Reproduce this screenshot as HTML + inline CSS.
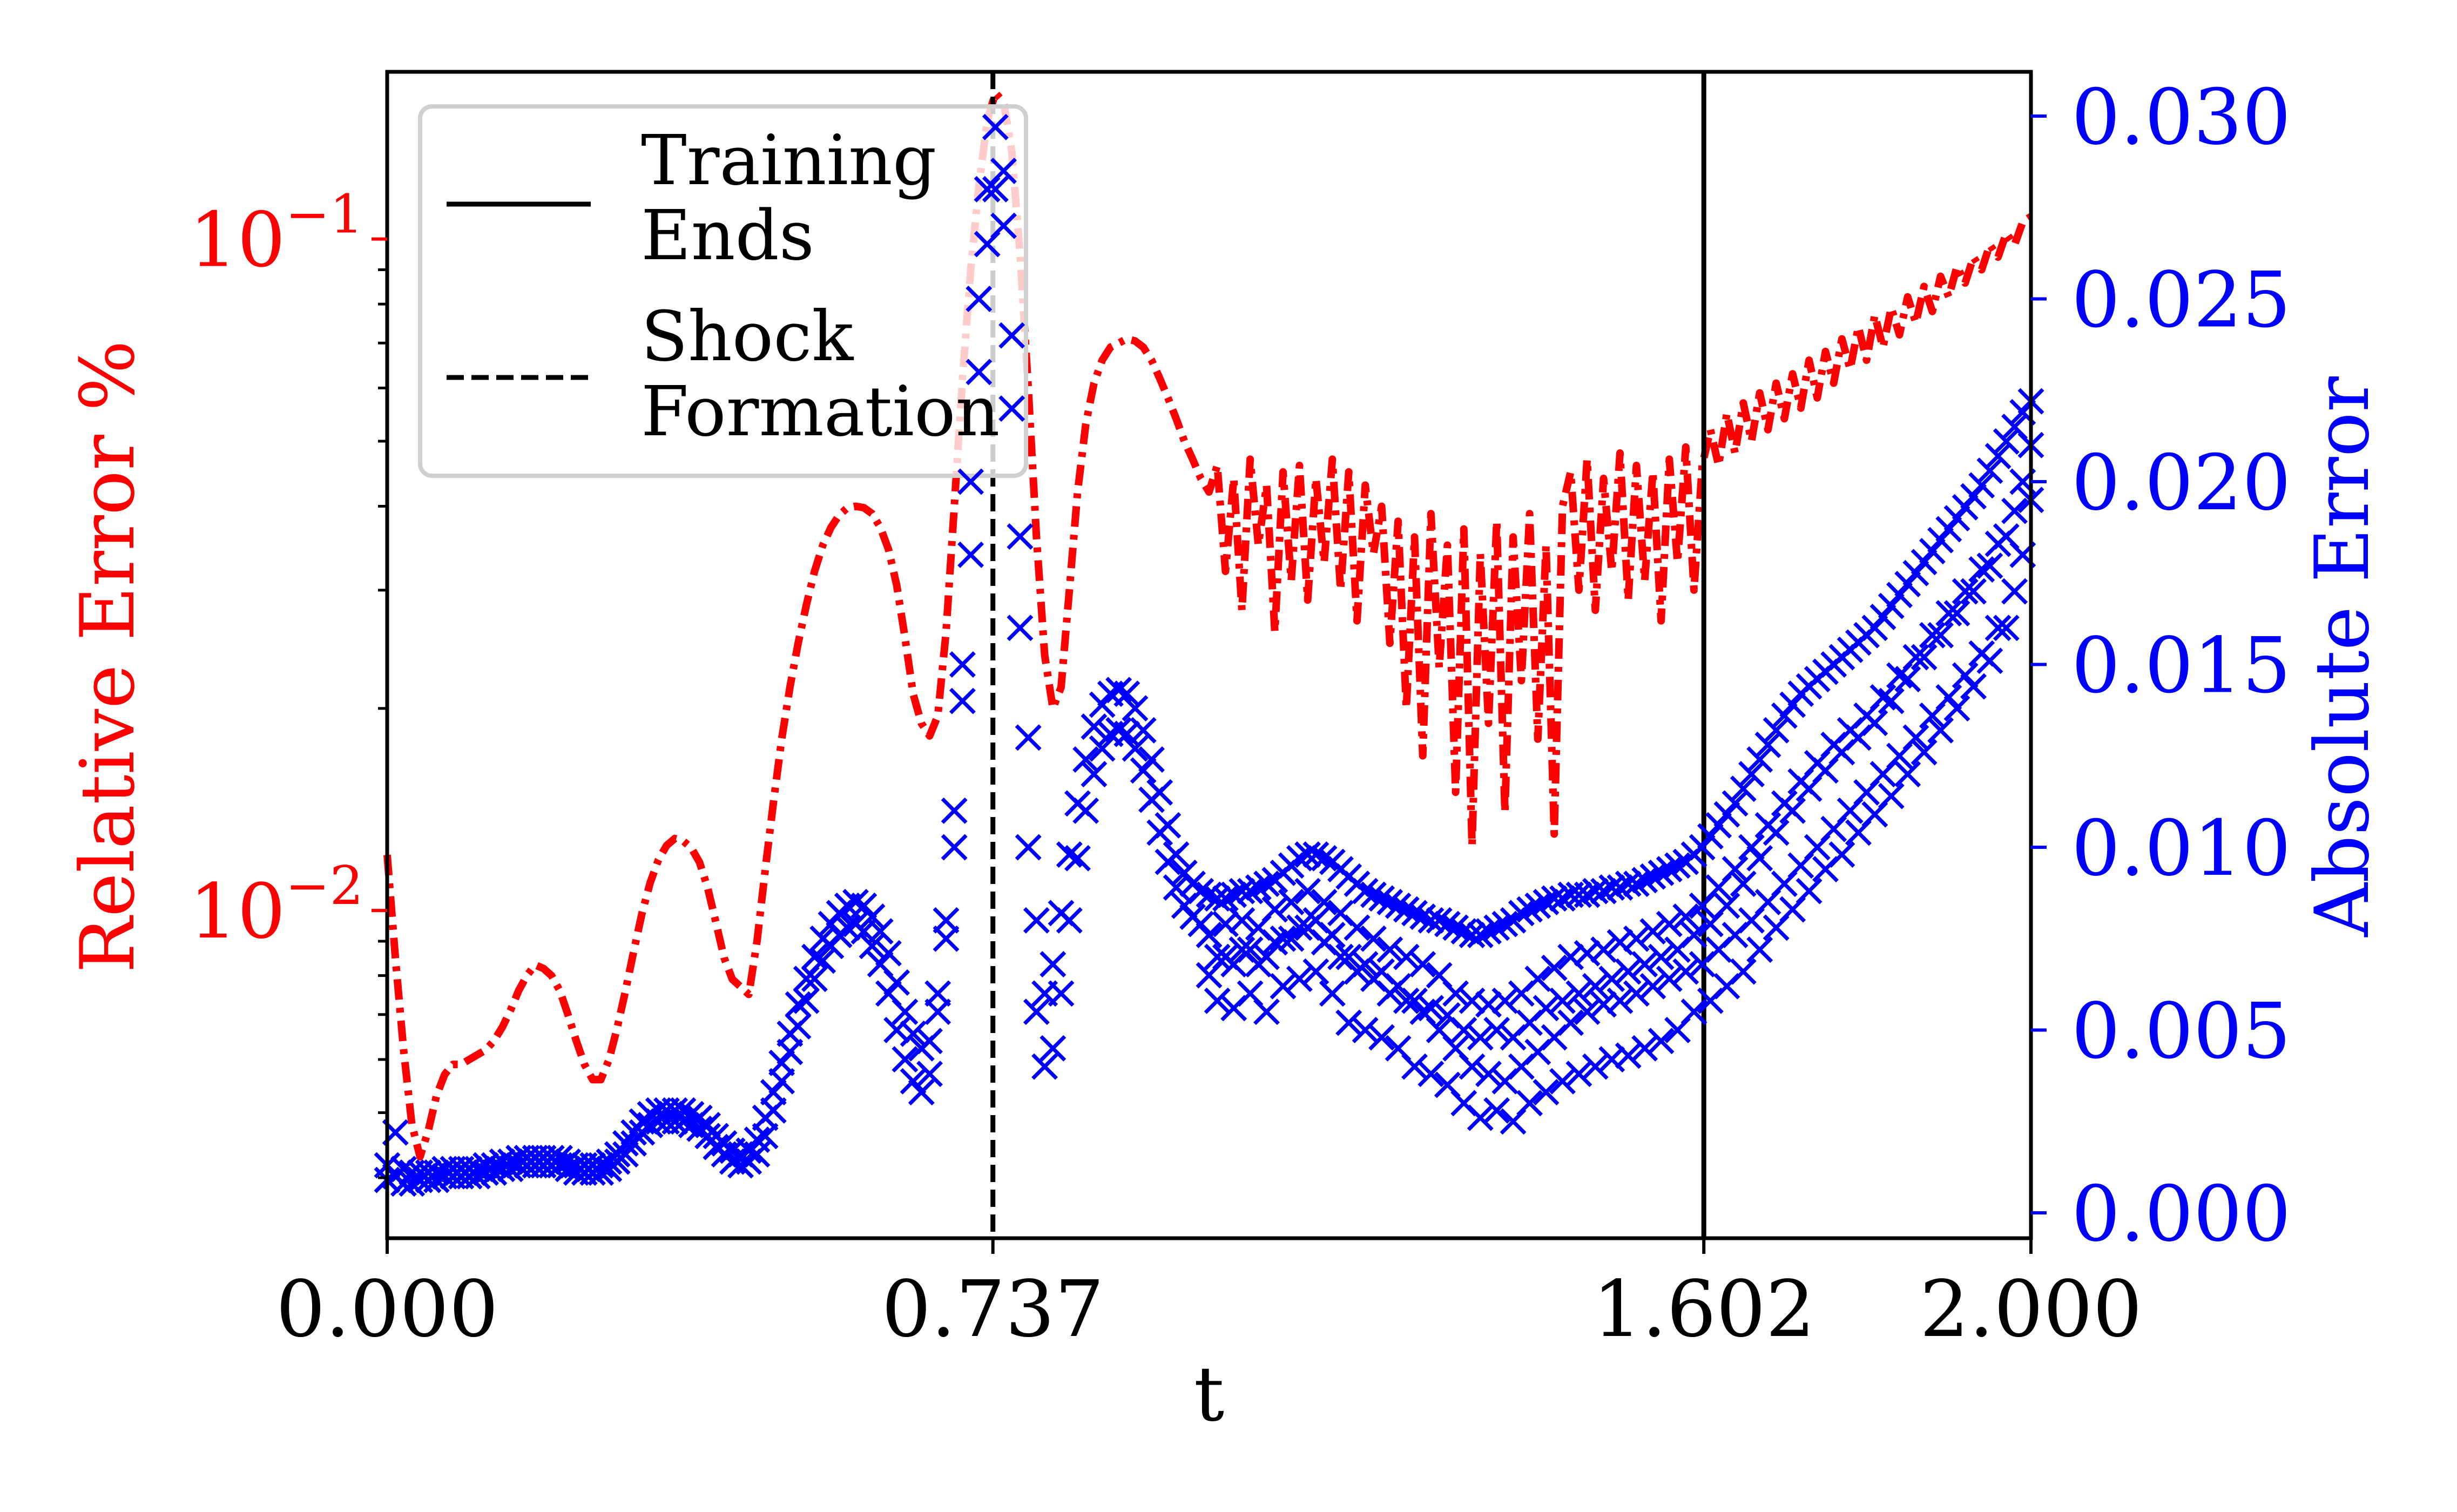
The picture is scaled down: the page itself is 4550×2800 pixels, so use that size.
<!DOCTYPE html>
<html><head><meta charset="utf-8"><style>
html,body{margin:0;padding:0;background:#fff;}
svg{display:block;font-family:"DejaVu Serif","Liberation Serif",serif;}
</style></head><body>
<svg id="chart" width="4550" height="2800" viewBox="0 0 4550 2800" xmlns="http://www.w3.org/2000/svg">
<rect width="4550" height="2800" fill="#fff"/>
<g id="plot"></g>
<g id="legend"></g>
<g id="plot2"></g>
<g id="axes"></g>
</svg>
<script>
const tStart = 0, tStep = 0.01;
const midStart = 1.0;
const xTicks = [0, 0.737, 1.602, 2.0];
const xTickLabels = ["0.000", "0.737", "1.602", "2.000"];
const rightTicks = [0, 0.005, 0.010, 0.015, 0.020, 0.025, 0.030];
const rightTickLabels = ["0.000","0.005","0.010","0.015","0.020","0.025","0.030"];
const shockT = 0.737, trainEndT = 1.602;
const relErr = [
0.0121,0.0085,0.0062,0.0048,0.0043,0.0047,0.0053,0.0057,0.0059,0.0059,
0.0060,0.0061,0.0062,0.0064,0.0067,0.0071,0.0076,0.0080,0.0083,0.0082,
0.0080,0.0076,0.0070,0.0064,0.0059,0.0056,0.0056,0.0060,0.0067,0.0076,
0.0087,0.0099,0.0110,0.0119,0.0125,0.0128,0.0127,0.0124,0.0118,0.0108,
0.0096,0.0085,0.0079,0.0077,0.0075,0.0090,0.0115,0.0145,0.0180,0.0215,
0.0250,0.0285,0.0320,0.0350,0.0372,0.0388,0.0398,0.0400,0.0398,0.0390,
0.0372,0.0345,0.0305,0.0255,0.0210,0.0190,0.0182,0.0195,0.0260,0.0400,
0.0620,0.0900,0.1200,0.1500,0.1650,0.1600,0.1350,0.0950,0.0600,0.0360,
0.0240,0.0200,0.0215,0.0300,0.0420,0.0530,0.0610,0.0660,0.0690,0.0700,
0.0710,0.0705,0.0690,0.0660,0.0620,0.0580,0.0540,0.0500,0.0470,0.0440,
0.0420,
0.046,0.032,0.044,0.028,0.047,0.035,0.043,0.026,0.045,0.031,0.046,0.029,0.044,0.033,0.047,0.030,0.045,0.027,0.043,0.034,
0.040,0.025,0.038,0.020,0.036,0.017,0.039,0.023,0.035,0.015,0.037,0.0125,0.034,0.019,0.038,0.014,0.036,0.022,0.039,0.018,0.035,0.013,0.040,
0.045,0.030,0.047,0.028,0.044,0.032,0.048,0.029,0.046,0.031,0.045,0.027,0.047,0.033,0.049,0.030,0.046,
0.052,0.046,0.055,0.048,0.057,0.050,0.059,0.052,0.061,0.054,0.063,0.056,0.066,0.058,0.068,0.061,0.071,0.064,0.074,0.066,
0.077,0.069,0.079,0.072,0.082,0.075,0.085,0.078,0.088,0.082,0.091,0.086,0.094,0.090,0.098,0.094,0.102,0.098,0.106,0.108];
const absErrHigh = [
0.0013,0.0022,0.0012,0.0011,0.0011,0.0011,0.0011,0.0012,0.0012,0.0012,
0.0012,0.0012,0.0013,0.0013,0.0014,0.0014,0.0015,0.0015,0.0015,0.0015,
0.0015,0.0015,0.0014,0.0013,0.0013,0.0013,0.0013,0.0014,0.0016,0.0019,
0.0022,0.0025,0.0027,0.0028,0.0028,0.0028,0.0028,0.0027,0.0026,0.0024,
0.0021,0.0019,0.0017,0.0016,0.0017,0.0020,0.0026,0.0033,0.0041,0.0049,
0.0057,0.0064,0.0070,0.0075,0.0079,0.0082,0.0084,0.0085,0.0084,0.0081,
0.0077,0.0071,0.0063,0.0055,0.0049,0.0045,0.0047,0.0060,0.0080,0.0110,
0.0150,0.0200,0.0250,0.0280,0.0297,0.0285,0.0240,0.0185,0.0130,0.0080,
0.0060,0.0068,0.0082,0.0098,0.0112,0.0124,0.0133,0.0139,0.0142,0.0143,
0.0142,0.0138,0.0132,0.0124,0.0115,0.0106,0.0098,0.0093,0.0090,0.0088,
0.0087,0.0086,0.0086,0.0087,0.0088,0.0088,0.0089,0.0090,0.0091,0.0093,
0.0095,0.0097,0.0098,0.0098,0.0097,0.0096,0.0094,0.0092,0.0090,0.0088,
0.0087,0.0086,0.0085,0.0084,0.0083,0.0082,0.0081,0.0080,0.0080,0.0079,
0.0078,0.0077,0.0076,0.0076,0.0077,0.0078,0.0079,0.0080,0.0082,0.0083,
0.0084,0.0085,0.0086,0.0086,0.0087,0.0087,0.0087,0.0088,0.0088,0.0089,
0.0089,0.0090,0.0090,0.0091,0.0092,0.0093,0.0094,0.0095,0.0096,0.0098,
0.0100,0.0103,0.0106,0.0109,0.0112,0.0116,0.0120,0.0124,0.0128,0.0132,
0.0136,0.0139,0.0142,0.0144,0.0146,0.0148,0.0150,0.0152,0.0154,0.0156,
0.0158,0.0160,0.0163,0.0166,0.0169,0.0172,0.0175,0.0178,0.0181,0.0184,
0.0187,0.0190,0.0193,0.0196,0.0199,0.0203,0.0207,0.0211,0.0215,0.0219,0.0222];
const absErrLow = [
0.0009,0.0010,0.0008,0.0008,0.0009,0.0009,0.0009,0.0010,0.0010,0.0010,
0.0010,0.0010,0.0011,0.0011,0.0012,0.0012,0.0013,0.0013,0.0013,0.0013,
0.0013,0.0013,0.0012,0.0011,0.0011,0.0011,0.0011,0.0012,0.0014,0.0016,
0.0019,0.0022,0.0024,0.0025,0.0025,0.0025,0.0025,0.0024,0.0023,0.0021,
0.0018,0.0016,0.0014,0.0013,0.0014,0.0016,0.0021,0.0028,0.0036,0.0044,
0.0051,0.0058,0.0064,0.0069,0.0073,0.0076,0.0078,0.0079,0.0077,0.0073,
0.0068,0.0060,0.0050,0.0042,0.0036,0.0033,0.0038,0.0055,0.0075,0.0100,
0.0140,0.0180,0.0230,0.0265,0.0280,0.0270,0.0220,0.0160,0.0100,0.0055,
0.0040,0.0045,0.0060,0.0080,0.0097,0.0110,0.0120,0.0127,0.0131,0.0132,
0.0131,0.0127,0.0121,0.0113,0.0104,0.0096,0.0089,0.0084,0.0081,0.0079,
0.0065,0.0058,0.0070,0.0056,0.0072,0.0060,0.0068,0.0055,0.0074,0.0062,
0.0075,0.0064,0.0078,0.0066,0.0074,0.0060,0.0070,0.0052,0.0066,0.0050,
0.0064,0.0048,0.0060,0.0045,0.0058,0.0040,0.0055,0.0038,0.0050,0.0035,
0.0045,0.0030,0.0040,0.0026,0.0038,0.0028,0.0036,0.0025,0.0040,0.0030,
0.0044,0.0033,0.0048,0.0036,0.0052,0.0038,0.0055,0.0040,0.0057,0.0042,
0.0058,0.0043,0.0060,0.0045,0.0062,0.0047,0.0064,0.0050,0.0066,0.0055,
0.0068,0.0058,0.0072,0.0062,0.0076,0.0066,0.0080,0.0072,0.0085,0.0078,
0.0090,0.0083,0.0095,0.0088,0.0100,0.0094,0.0105,0.0098,0.0110,0.0104,
0.0115,0.0109,0.0120,0.0114,0.0125,0.0120,0.0130,0.0126,0.0136,0.0132,
0.0141,0.0138,0.0147,0.0144,0.0153,0.0151,0.0160,0.0160,0.0170,0.0180,0.0195];
const absErrMid = [
0.0076,0.0070,0.0079,0.0068,0.0080,0.0072,0.0078,0.0070,0.0083,0.0075,
0.0085,0.0078,0.0088,0.0080,0.0085,0.0076,0.0082,0.0070,0.0078,0.0068,
0.0075,0.0066,0.0072,0.0062,0.0070,0.0058,0.0068,0.0056,0.0065,0.0054,
0.0060,0.0050,0.0058,0.0048,0.0057,0.0050,0.0058,0.0048,0.0060,0.0052,
0.0064,0.0056,0.0067,0.0058,0.0070,0.0060,0.0071,0.0062,0.0072,0.0064,
0.0074,0.0066,0.0075,0.0068,0.0077,0.0070,0.0079,0.0072,0.0081,0.0076,
0.0084,0.0079,0.0089,0.0084,0.0094,0.0090,0.0100,0.0097,0.0106,0.0104,
0.0112,0.0110,0.0118,0.0116,0.0123,0.0121,0.0128,0.0126,0.0132,0.0130,
0.0136,0.0134,0.0141,0.0140,0.0147,0.0146,0.0152,0.0152,0.0158,0.0158,
0.0164,0.0164,0.0170,0.0170,0.0176,0.0177,0.0183,0.0185,0.0192,0.0200,0.0210];

const NS = "http://www.w3.org/2000/svg";
const L = 717, R = 3761, T = 133, B = 2293;
const xMin = 0, xMax = 2;
const logTop = -0.751, logBot = -2.488;
const rMin = 0, rMax = 0.030, r0px = 2246, r30px = 215;
function xs(t){ return L + (t - xMin) / (xMax - xMin) * (R - L); }
function yl(v){ return T + (logTop - Math.log10(v)) / (logTop - logBot) * (B - T); }
function yr(v){ return r0px + (v - rMin) / (rMax - rMin) * (r30px - r0px); }
function mk(tag, attrs, parent){ const e = document.createElementNS(NS, tag); for (const k in attrs) e.setAttribute(k, attrs[k]); parent.appendChild(e); return e; }

const plot = document.getElementById('plot');
const plot2 = document.getElementById('plot2');
const axes = document.getElementById('axes');

let d = "";
relErr.forEach((v,i)=>{ const t = tStart + i*tStep; d += (i?"L":"M") + xs(t).toFixed(1) + "," + yl(v).toFixed(1); });
const redLine = mk('path', {d:d, fill:'none', stroke:'#ff0000', 'stroke-width':14, 'stroke-dasharray':'38 15 9 15', 'stroke-linejoin':'round'}, plot);



const shock = mk('line', {x1:xs(shockT), x2:xs(shockT), y1:T, y2:B, stroke:'#000', 'stroke-width':9, 'stroke-dasharray':'32 14'}, plot);


const train = mk('line', {x1:xs(trainEndT), x2:xs(trainEndT), y1:T, y2:B, stroke:'#000', 'stroke-width':9}, plot);



function drawMarkers(arr, start, name){
  const g = mk('g', {}, plot2);
  
  
  let pd = "";
  const s = 22;
  arr.forEach((v,i)=>{ const t = start + i*tStep; const x = xs(t), y = yr(v);
    pd += `M${(x-s).toFixed(1)},${(y-s).toFixed(1)}L${(x+s).toFixed(1)},${(y+s).toFixed(1)}M${(x-s).toFixed(1)},${(y+s).toFixed(1)}L${(x+s).toFixed(1)},${(y-s).toFixed(1)}`; });
  mk('path', {d:pd, stroke:'#0000ff', 'stroke-width':7, fill:'none'}, g);
}
drawMarkers(absErrHigh, tStart, 'absolute-error-markers-high');
drawMarkers(absErrLow, tStart, 'absolute-error-markers-low');
drawMarkers(absErrMid, midStart, 'absolute-error-markers-mid');

const frame = mk('rect', {x:L, y:T, width:R-L, height:B-T, fill:'none', stroke:'#000', 'stroke-width':7}, axes);



xTicks.forEach((t,i)=>{
  mk('line', {x1:xs(t), x2:xs(t), y1:B, y2:B+29, stroke:'#000', 'stroke-width':6}, axes);
  const tx = mk('text', {x:xs(t), y:2474, 'text-anchor':'middle', 'font-size':144, fill:'#000'}, axes);
  tx.textContent = xTickLabels[i];
  
  
});
const xt = mk('text', {x:(L+R)/2, y:2630, 'text-anchor':'middle', 'font-size':140, fill:'#000'}, axes);
xt.textContent = 't';



[[0.1,'−1'],[0.01,'−2']].forEach(([v,ex])=>{
  const y = yl(v);
  mk('line', {x1:L-29, x2:L, y1:y, y2:y, stroke:'#ff0000', 'stroke-width':6}, axes);
  const tx = mk('text', {x:673, y:y+50, 'text-anchor':'end', 'font-size':140, fill:'#ff0000'}, axes);
  
  
  const a = mk('tspan', {}, tx); a.textContent = '10';
  const b = mk('tspan', {'font-size':98, dy:-62}, tx); b.textContent = ex;
});
[0.004,0.005,0.006,0.007,0.008,0.009,0.02,0.03,0.04,0.05,0.06,0.07,0.08,0.09].forEach(v=>{
  const y = yl(v);
  mk('line', {x1:L-17, x2:L, y1:y, y2:y, stroke:'#000', 'stroke-width':5}, axes);
});
const ylab = mk('text', {x:0, y:0, transform:'translate(247,1216) rotate(-90)', 'text-anchor':'middle', 'font-size':138, fill:'#ff0000'}, axes);
ylab.textContent = 'Relative Error %';



rightTicks.forEach((v,i)=>{
  const y = yr(v);
  mk('line', {x1:R, x2:R+29, y1:y, y2:y, stroke:'#0000ff', 'stroke-width':6}, axes);
  const tx = mk('text', {x:3836, y:y+51, 'font-size':142, fill:'#0000ff'}, axes);
  tx.textContent = rightTickLabels[i];
  
  
});
const rlab = mk('text', {x:0, y:0, transform:'translate(4385,1216) rotate(-90)', 'text-anchor':'middle', 'font-size':138, fill:'#0000ff'}, axes);
rlab.textContent = 'Absolute Error';



const lg = document.getElementById('legend');
mk('rect', {x:778, y:197, width:1122, height:684, rx:22, fill:'#fff', 'fill-opacity':0.8, stroke:'#d0d0d0', 'stroke-width':8}, lg);
const ls = mk('line', {x1:827, x2:1094, y1:378, y2:378, stroke:'#000', 'stroke-width':9}, lg);


const ld = mk('line', {x1:827, x2:1094, y1:699, y2:699, stroke:'#000', 'stroke-width':9, 'stroke-dasharray':'32 14'}, lg);


[['Training',341],['Ends',480],['Shock',667],['Formation',806]].forEach(([s,y])=>{
  const tx = mk('text', {x:1187, y:y, 'font-size':127, fill:'#000'}, lg);
  tx.textContent = s;
  
  
});
</script>
</body></html>
